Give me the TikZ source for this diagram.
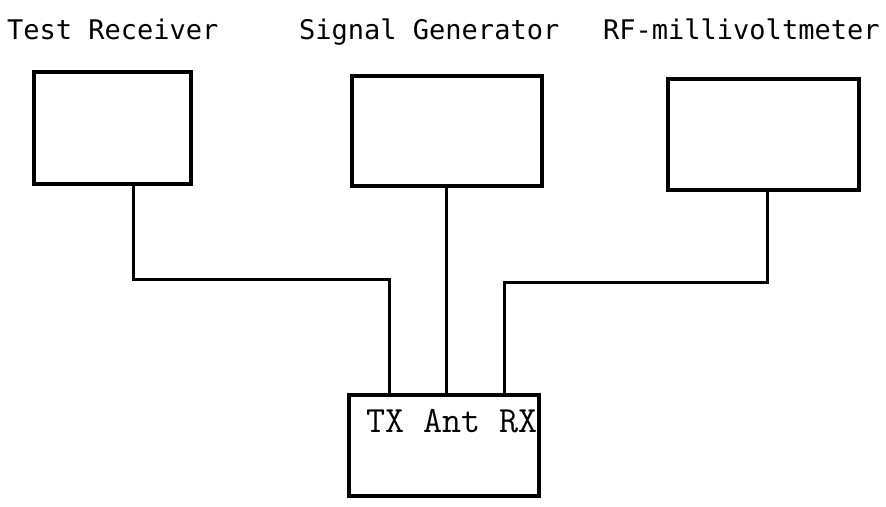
\documentclass[tikz,border=0pt]{standalone}
\usepackage{fontspec}
\newfontfamily\labelfont{DejaVu Sans Mono}
\usetikzlibrary{positioning,calc}

\begin{document}
\begin{tikzpicture}[x=1pt, y=-1pt]
  \tikzset{
    unit/.style={draw, line width=3.6pt, inner sep=0pt},
    wire/.style={line width=3pt},
    devname/.style={font=\labelfont\fontsize{27}{30}\selectfont, anchor=base west, inner sep=0pt}
  }
  \useasboundingbox (0,0) rectangle (886,506);

  % instrument boxes
  \node[unit, minimum width=157pt, minimum height=112pt] (rcv) at (112.5,128) {};
  \node[unit, minimum width=190pt, minimum height=110pt] (gen) at (447,131) {};
  \node[unit, minimum width=191pt, minimum height=111pt] (mvm) at (763.5,134.5) {};

  % names above the boxes
  \node[devname] (rcvname) at (7,39) {Test Receiver};
  \node[devname] (genname) at (299,39) {Signal Generator};
  \node[devname] (mvmname) at (603,39) {RF-millivoltmeter};

  % set under test
  \node[unit, minimum width=190pt, minimum height=101pt] (dut) at (444,445.5) {};
  \node[font=\ttfamily\fontsize{37}{40}\selectfont, anchor=base west, inner sep=0pt] (ports) at (366,432) {TX Ant RX};

  \coordinate (txin)  at ([xshift=-55pt]dut.north);
  \coordinate (antin) at ([xshift=2pt]dut.north);
  \coordinate (rxin)  at ([xshift=60pt]dut.north);

  % cabling
  \draw[wire] ([xshift=20.5pt]rcv.south) -- ++(0,94) -| (txin);
  \draw[wire] (gen.south -| antin) -- (antin);
  \draw[wire] ([xshift=3.5pt]mvm.south) -- ++(0,91) -| (rxin);
\end{tikzpicture}
\end{document}
